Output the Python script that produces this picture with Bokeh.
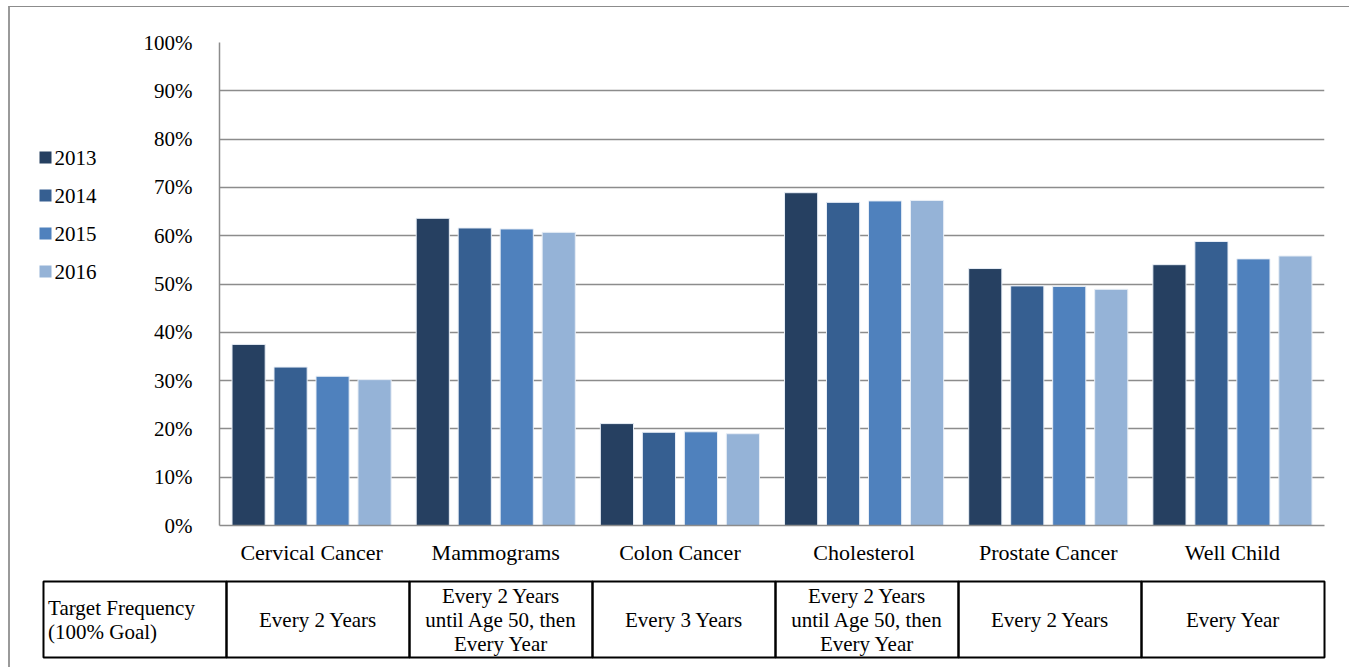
from bokeh.plotting import figure
from bokeh.models import (FactorRange, Range1d, NumeralTickFormatter, FixedTicker,
                          ColumnDataSource)
from bokeh.transform import dodge
from bokeh.layouts import column, row
from bokeh.core.properties import value
from bokeh.embed import file_html
from bokeh.resources import INLINE

categories = ["Cervical Cancer", "Mammograms", "Colon Cancer", "Cholesterol",
              "Prostate Cancer", "Well Child"]
years = ["2013", "2014", "2015", "2016"]
v2013 = [0.375, 0.636, 0.211, 0.689, 0.532, 0.540]
v2014 = [0.328, 0.616, 0.193, 0.669, 0.496, 0.588]
v2015 = [0.309, 0.614, 0.194, 0.672, 0.495, 0.552]
v2016 = [0.302, 0.607, 0.190, 0.673, 0.489, 0.558]
colors = ["#264061", "#365F91", "#4F81BD", "#95B3D7"]
y_ticks = [0.0, 0.1, 0.2, 0.3, 0.4, 0.5, 0.6, 0.7, 0.8, 0.9, 1.0]
table_header = "Target Frequency\n(100% Goal)"
frequencies = ["Every 2 Years",
               "Every 2 Years\nuntil Age 50, then\nEvery Year",
               "Every 3 Years",
               "Every 2 Years\nuntil Age 50, then\nEvery Year",
               "Every 2 Years",
               "Every Year"]

FONT = "Liberation Serif"
LEG_W = 130

src = ColumnDataSource(dict(cat=categories, y2013=v2013, y2014=v2014,
                            y2015=v2015, y2016=v2016))

p = figure(x_range=FactorRange(factors=categories, range_padding=0),
           y_range=Range1d(0, 1), width=1340 - LEG_W, height=565,
           output_backend="svg", toolbar_location=None, frame_align=False,
           min_border_left=77, min_border_right=26,
           min_border_top=35, min_border_bottom=47)
p.outline_line_color = None

offsets = [-0.342, -0.114, 0.114, 0.342]
for yr, col, off in zip(years, colors, offsets):
    p.vbar(x=dodge("cat", off, range=p.x_range), top="y" + yr, width=0.18,
           source=src, fill_color=col, line_color="#e8eef6", line_width=1)

p.yaxis.ticker = FixedTicker(ticks=y_ticks)
p.yaxis.formatter = NumeralTickFormatter(format="0%")
p.yaxis.major_tick_line_color = None
p.yaxis.minor_tick_line_color = None
p.yaxis.axis_line_color = "#8c8c8c"
p.yaxis.axis_line_width = 1.5
p.yaxis.major_label_standoff = 21
p.yaxis.major_label_text_font = FONT
p.yaxis.major_label_text_font_size = "21px"
p.yaxis.major_label_text_color = "black"

p.xaxis.major_tick_line_color = None
p.xaxis.axis_line_color = "#8c8c8c"
p.xaxis.axis_line_width = 1.5
p.xaxis.major_label_standoff = 8
p.xaxis.major_label_text_font = FONT
p.xaxis.major_label_text_font_size = "22px"
p.xaxis.major_label_text_color = "black"

p.xgrid.grid_line_color = None
p.ygrid.ticker = FixedTicker(ticks=y_ticks)
p.ygrid.grid_line_color = "#8c8c8c"
p.ygrid.grid_line_width = 1.5

# Legend panel (left of the chart), laid out in pixel units from its top-left
L = figure(x_range=Range1d(0, LEG_W), y_range=Range1d(565, 0), width=LEG_W, height=565,
           output_backend="svg", toolbar_location=None, frame_align=False,
           min_border=0)
L.axis.visible = False
L.grid.grid_line_color = None
L.outline_line_color = None
leg_y = [150 + 38 * i for i in range(len(years))]
L.scatter(x=[35] * len(years), y=leg_y, marker="square", size=12,
          fill_color=colors, line_color=None)
L.text(x=[44] * len(years), y=leg_y, text=years, text_font=value(FONT),
       text_font_size="21px", text_baseline="middle", text_align="left",
       text_color="black")

# Table below the chart
ncols = len(frequencies) + 1
t = figure(x_range=Range1d(-0.0546, ncols + 0.0546), y_range=Range1d(-0.105, 1.092),
           width=1340, height=95, output_backend="svg", toolbar_location=None,
           frame_align=False,
           min_border_left=23, min_border_right=16, min_border_top=2, min_border_bottom=2)
t.axis.visible = False
t.grid.grid_line_color = None
t.outline_line_color = None

lefts = list(range(ncols))
t.quad(left=lefts, right=[l + 1 for l in lefts], bottom=[0] * ncols, top=[1] * ncols,
       fill_color=None, line_color="black", line_width=2)
t.text(x=[0.025], y=[0.5], text=[table_header], text_font=value(FONT),
       text_font_size="21px", text_align="left", text_baseline="middle",
       text_line_height=1.0, text_color="black")
t.text(x=[i + 1.5 for i in range(len(frequencies))], y=[0.5] * len(frequencies),
       text=frequencies, text_font=value(FONT), text_font_size="21px",
       text_align="center", text_baseline="middle", text_line_height=1.0,
       text_color="black")

layout = column(row(L, p, spacing=0), t, spacing=0,
                styles={"border-top": "1px solid #8c8c8c", "border-left": "2px solid #9a9a9a",
                        "margin-left": "8px", "margin-top": "6px"})

open("out.html", "w").write(file_html(layout, INLINE))
